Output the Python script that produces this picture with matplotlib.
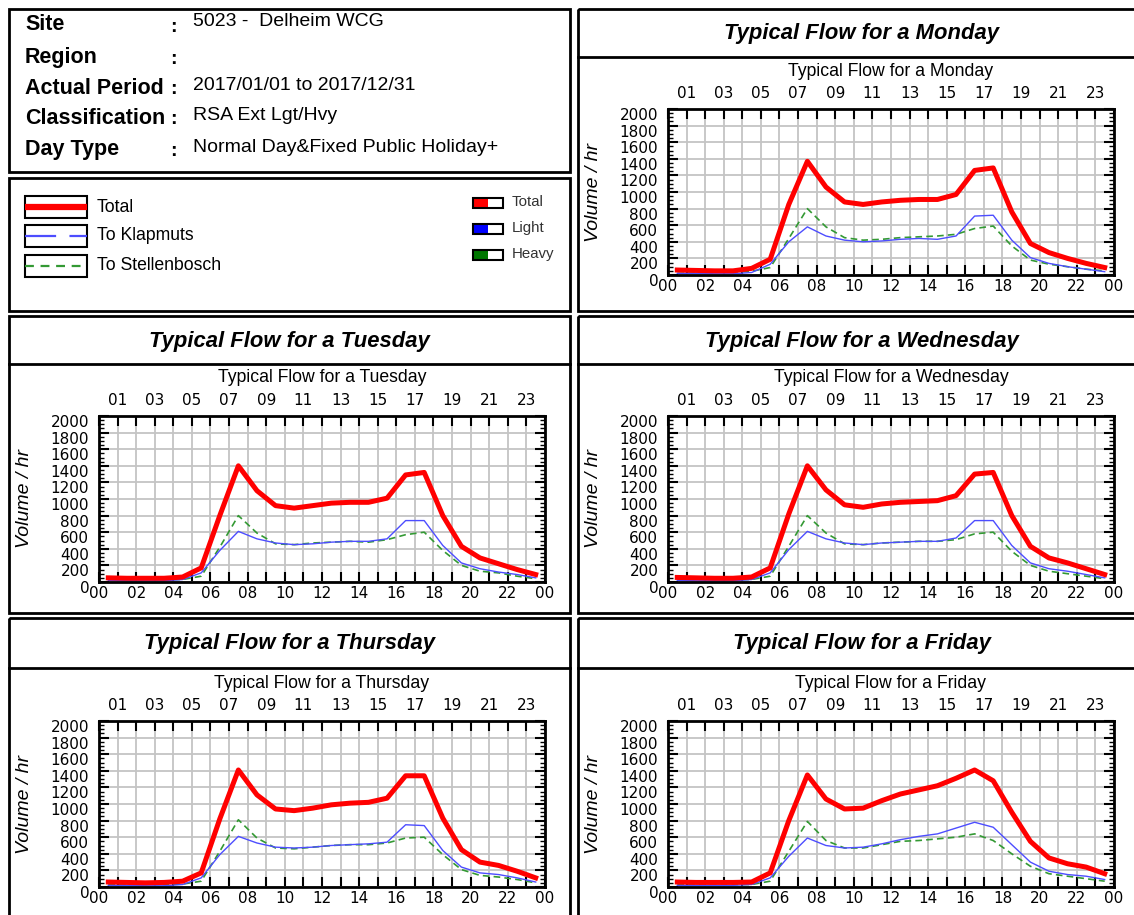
import matplotlib
matplotlib.use("Agg")
import matplotlib.pyplot as plt
from matplotlib.patches import Rectangle
from matplotlib.ticker import MultipleLocator
from matplotlib.transforms import ScaledTranslation

plt.rcParams['font.family'] = ['Liberation Sans', 'DejaVu Sans']

W, H = 1134, 915

# ---- data (vehicles per hour, value plotted at the middle of each hour) ----
hours = [0.5, 1.5, 2.5, 3.5, 4.5, 5.5, 6.5, 7.5, 8.5, 9.5, 10.5, 11.5,
         12.5, 13.5, 14.5, 15.5, 16.5, 17.5, 18.5, 19.5, 20.5, 21.5, 22.5, 23.5]

mon_total = [60, 55, 50, 50, 80, 190, 850, 1370, 1060, 880, 850, 880, 900, 910, 910, 970, 1260, 1290, 760, 380, 270, 200, 140, 90]
mon_klap = [20, 20, 15, 15, 30, 130, 400, 580, 470, 420, 400, 410, 430, 440, 430, 470, 710, 720, 420, 210, 140, 100, 70, 40]
mon_stel = [40, 35, 35, 35, 45, 90, 440, 800, 580, 450, 420, 430, 450, 460, 470, 490, 560, 590, 350, 180, 130, 100, 70, 50]

tue_total = [50, 45, 45, 45, 60, 170, 800, 1400, 1100, 920, 890, 920, 950, 960, 960, 1010, 1290, 1320, 800, 430, 290, 220, 150, 90]
tue_klap = [20, 15, 15, 15, 30, 110, 380, 610, 520, 470, 450, 460, 480, 490, 490, 520, 740, 740, 440, 230, 160, 120, 90, 50]
tue_stel = [30, 30, 30, 30, 30, 70, 420, 800, 590, 460, 450, 470, 480, 490, 480, 510, 570, 600, 380, 200, 130, 110, 70, 40]

wed_total = [55, 50, 45, 45, 60, 170, 820, 1400, 1110, 930, 900, 940, 960, 970, 980, 1040, 1300, 1320, 800, 430, 290, 230, 160, 90]
wed_klap = [20, 15, 15, 15, 30, 110, 390, 610, 520, 470, 450, 470, 480, 490, 490, 530, 740, 740, 440, 230, 160, 130, 90, 50]
wed_stel = [30, 30, 30, 30, 30, 70, 430, 800, 590, 460, 450, 470, 480, 490, 490, 510, 580, 600, 370, 200, 130, 100, 70, 40]

thu_total = [60, 55, 50, 55, 70, 170, 820, 1410, 1110, 940, 920, 950, 990, 1010, 1020, 1070, 1340, 1340, 830, 450, 300, 260, 190, 110]
thu_klap = [20, 20, 15, 15, 30, 110, 390, 610, 530, 480, 470, 480, 500, 510, 520, 540, 750, 740, 440, 240, 170, 150, 110, 60]
thu_stel = [30, 30, 30, 30, 35, 70, 430, 810, 590, 470, 460, 480, 500, 510, 510, 530, 590, 600, 390, 210, 140, 120, 90, 50]

fri_total = [60, 55, 55, 55, 60, 170, 800, 1350, 1060, 940, 950, 1040, 1120, 1170, 1220, 1310, 1410, 1280, 900, 550, 350, 280, 240, 160]
fri_klap = [20, 20, 20, 20, 30, 110, 370, 590, 500, 470, 480, 520, 570, 610, 640, 710, 780, 720, 510, 300, 190, 150, 130, 90]
fri_stel = [30, 30, 30, 30, 30, 70, 430, 790, 560, 470, 470, 510, 550, 560, 580, 600, 640, 560, 400, 250, 160, 130, 100, 70]

header_labels = ['Site', 'Region', 'Actual Period', 'Classification', 'Day Type']
header_values = ['5023 -  Delheim WCG', '', '2017/01/01 to 2017/12/31',
                 'RSA Ext Lgt/Hvy', 'Normal Day&Fixed Public Holiday+']

RED = '#ff0000'
BLUE = '#4d4dff'
GREEN = '#339933'
TICK_FONT = 'DejaVu Sans'


def px_rect(x, y, w, h):
    return [x / W, 1 - (y + h) / H, w / W, h / H]


fig = plt.figure(figsize=(W / 100, H / 100), dpi=100)

frame = fig.add_axes([0, 0, 1, 1], zorder=0)
frame.set_xlim(0, W)
frame.set_ylim(H, 0)
frame.axis('off')


def box(x0, y0, x1, y1, lw=2.0):
    frame.add_patch(Rectangle((x0, y0), x1 - x0, y1 - y0, fill=False,
                              lw=lw, ec='black', clip_on=False))


def panel(x0, y0, ydiv, x1, y1, title):
    box(x0, y0, x1, y1)
    frame.plot([x0, x1], [ydiv, ydiv], color='black', lw=2.0)
    frame.text((x0 + x1) / 2, (y0 + ydiv) / 2 + 1, title, ha='center', va='center',
               fontsize=15.8, fontweight='bold', style='italic')


# header box
box(9, 9, 570, 172)
row_y = [25, 57, 88, 118, 150]
for yy, lab, val in zip(row_y, header_labels, header_values):
    frame.text(25, yy, lab, fontsize=15.5, fontweight='bold', va='center')
    frame.text(170, yy + 2, ':', fontsize=14, fontweight='bold', va='center')
    frame.text(193, yy - 3, val, fontsize=14, va='center')

# legend box
box(9, 178, 570, 311)
leg = [('Total', RED, 4.5, '-', 207),
       ('To Klapmuts', BLUE, 1.6, (0, (14, 6)), 236),
       ('To Stellenbosch', GREEN, 1.6, (0, (4, 3)), 266)]
for lab, col, lw, ls, yc in leg:
    frame.add_patch(Rectangle((25, yc - 11), 62, 22, fill=False, lw=1.5, ec='black'))
    frame.plot([25, 87], [yc, yc], color=col, lw=lw, ls=ls, solid_capstyle='butt')
    frame.text(97, yc, lab, fontsize=12.7, va='center')

small = [('Total', RED, 203), ('Light', '#0000ff', 229), ('Heavy', '#007700', 255)]
for lab, col, yc in small:
    frame.add_patch(Rectangle((473, yc - 5), 15, 10, color=col, lw=0))
    frame.add_patch(Rectangle((473, yc - 5), 30, 10, fill=False, lw=1.5, ec='black'))
    frame.text(512, yc - 1, lab, fontsize=10.8, va='center', color='#333333')

# panel boxes
panel(578, 9, 57, 1145, 311, 'Typical Flow for a Monday')
panel(9, 316, 364, 570, 613, 'Typical Flow for a Tuesday')
panel(578, 316, 364, 1145, 613, 'Typical Flow for a Wednesday')
panel(9, 618, 668, 570, 930, 'Typical Flow for a Thursday')
panel(578, 618, 668, 1145, 930, 'Typical Flow for a Friday')


def day_plot(x, y, day, total, klap, stel):
    w, h = 446, 166
    ax = fig.add_axes(px_rect(x, y, w, h), zorder=2)
    ax.plot(hours, stel, color=GREEN, lw=1.2, ls=(0, (4, 2.5)))
    ax.plot(hours, klap, color=BLUE, lw=1.0)
    ax.plot(hours, total, color=RED, lw=3.6, solid_joinstyle='round')
    ax.set_xlim(0, 24)
    ax.set_ylim(0, 2000)
    ax.set_xticks(range(25))
    ax.set_xticklabels(['%02d' % (t % 24) if t % 2 == 0 else '' for t in range(25)],
                       family=TICK_FONT)
    ax.set_yticks(range(0, 2001, 200))
    ax.set_yticklabels([str(v) for v in range(0, 2001, 200)], family=TICK_FONT)
    ax.yaxis.set_minor_locator(MultipleLocator(50))
    ax.grid(True, which='major', color='#c4c4c4', lw=1.3)
    ax.set_axisbelow(True)
    ax.tick_params(axis='both', which='both', direction='in', top=True, right=True)
    ax.tick_params(which='major', length=7, width=1.5, labelsize=11)
    ax.tick_params(which='minor', length=3.5, width=1)
    ax.tick_params(axis='x', pad=3)
    ax.tick_params(axis='y', pad=7)
    for sp in ax.spines.values():
        sp.set_linewidth(2)
    shift = ScaledTranslation(0, -5 / 100, fig.dpi_scale_trans)
    for lab in ax.get_yticklabels():
        lab.set_transform(lab.get_transform() + shift)

    top = ax.secondary_xaxis('top')
    top.set_xticks([t for t in range(1, 24, 2)])
    top.set_xticklabels(['%02d' % t for t in range(1, 24, 2)], family=TICK_FONT)
    top.tick_params(length=0, labelsize=11, pad=6)
    top.spines['top'].set_visible(False)

    ax.text(0.5, 1 + 38 / h, f'Typical Flow for a {day}', transform=ax.transAxes,
            ha='center', va='center', fontsize=12.7)
    ax.set_ylabel('Volume / hr', style='italic', fontsize=14)
    ax.yaxis.set_label_coords(-66 / w, 0.5)
    return ax


day_plot(668, 109, 'Monday', mon_total, mon_klap, mon_stel)
day_plot(99, 416, 'Tuesday', tue_total, tue_klap, tue_stel)
day_plot(668, 416, 'Wednesday', wed_total, wed_klap, wed_stel)
day_plot(99, 721, 'Thursday', thu_total, thu_klap, thu_stel)
day_plot(668, 721, 'Friday', fri_total, fri_klap, fri_stel)

fig.savefig('out.png', dpi=100)
